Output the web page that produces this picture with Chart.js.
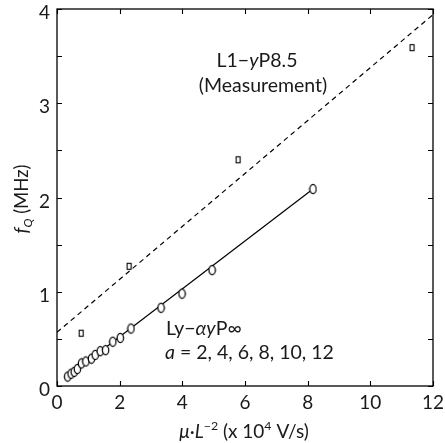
<!DOCTYPE html>
<html><head><meta charset="utf-8">
<script src="https://cdn.jsdelivr.net/npm/chart.js@4.4.1/dist/chart.umd.min.js"></script>
<style>html,body{margin:0;padding:0;background:#fff;}#wrap{width:445px;height:443px;}</style>
</head><body><div id="wrap"><canvas id="c" width="445" height="443"></canvas></div>
<script>
// Simulation (Ly-αyP∞, a = 2..12): circles
const simX = [0.34,0.45,0.55,0.65,0.78,0.92,1.10,1.22,1.38,1.55,1.78,2.02,2.36,3.32,3.99,4.95,8.17];
const simY = [0.10,0.13,0.15,0.18,0.24,0.26,0.29,0.33,0.37,0.38,0.47,0.51,0.61,0.83,0.98,1.23,2.09];
// Linear fit through simulation
const fitX = [0.34, 8.17];
const fitY = [0.10, 2.09];
// Measurement (L1-yP8.5): squares
const measX = [0.77, 2.30, 5.78, 11.33];
const measY = [0.56, 1.27, 2.40, 3.59];
// Measurement trend (dashed)
const trendX = [0, 12];
const trendY = [0.57, 3.94];
const xTicks = [0,2,4,6,8,10,12];
const yTicks = [0,1,2,3,4];

const FONT = 'Lato, "Open Sans", sans-serif';
const INK = '#1a1a1a';

function mk(w,h,draw){const c=document.createElement('canvas');c.width=w;c.height=h;draw(c.getContext('2d'));return c;}
const ellipse = mk(9,12,g=>{g.beginPath();g.ellipse(4.5,6,3.2,4.6,0,0,Math.PI*2);g.fillStyle='#fff';g.fill();g.lineWidth=1.2;g.strokeStyle='#000';g.stroke();});
const rectPt = mk(7,9,g=>{g.fillStyle='#fff';g.fillRect(1.5,1.5,4,6);g.lineWidth=1.1;g.strokeStyle='#000';g.strokeRect(1.5,1.5,4,6);});

const pts=(xs,ys)=>xs.map((x,i)=>({x,y:ys[i]}));

function richText(ctx, segs, x, y, size, align){
  const parts = segs.map(s=>{
    const sz = (s.sup||s.sub)? size*0.65 : size;
    const f = (s.it?'italic ':'') + sz + 'px ' + FONT;
    ctx.font = f;
    return {s, f, w: ctx.measureText(s.t).width};
  });
  const total = parts.reduce((a,p)=>a+p.w,0);
  let cx = align==='center' ? x - total/2 : x;
  ctx.textBaseline='alphabetic'; ctx.textAlign='left';
  for(const p of parts){
    ctx.font = p.f;
    let dy = 0;
    if(p.s.sup) dy = -size*0.4;
    if(p.s.sub) dy = size*0.22;
    ctx.fillText(p.s.t, cx, y+dy);
    cx += p.w;
  }
}

const deco = {
  id:'deco',
  afterDraw(chart){
    const ctx=chart.ctx, a=chart.chartArea, xs=chart.scales.x, ys=chart.scales.y;
    ctx.save();
    ctx.setTransform(1,0,0,1,0,0);
    ctx.strokeStyle='#000'; ctx.lineWidth=1.3; ctx.setLineDash([]);
    ctx.strokeRect(a.left, a.top, a.right-a.left, a.bottom-a.top);
    ctx.lineWidth=1.1;
    ctx.beginPath();
    for(const v of xTicks){
      const px = Math.round(xs.getPixelForValue(v))+0.5;
      ctx.moveTo(px,a.bottom); ctx.lineTo(px,a.bottom-5);
      ctx.moveTo(px,a.top); ctx.lineTo(px,a.top+5);
    }
    for(let v=0; v<=4.001; v+=0.5){
      const py = Math.round(ys.getPixelForValue(v))+0.5;
      ctx.moveTo(a.left,py); ctx.lineTo(a.left+5,py);
      ctx.moveTo(a.right,py); ctx.lineTo(a.right-5,py);
    }
    ctx.stroke();
    ctx.fillStyle=INK;
    // y tick labels
    ctx.font = '19px ' + FONT; ctx.textAlign='right'; ctx.textBaseline='alphabetic';
    for(const v of yTicks){
      ctx.fillText(String(v), a.left-7, ys.getPixelForValue(v)+10);
    }
    richText(ctx,[{t:'L1−'},{t:'y',it:true},{t:'P8.5'}],257,67,19.5,'center');
    richText(ctx,[{t:'(Measurement)'}],263,92,19.5,'center');
    richText(ctx,[{t:'Ly−'},{t:'αy',it:true},{t:'P∞'}],166,335,19.5,'left');
    richText(ctx,[{t:'a',it:true},{t:' = 2, 4, 6, 8, 10, 12'}],165,359,19.5,'left');
    richText(ctx,[{t:'μ',it:true},{t:'·'},{t:'L',it:true},{t:'−2',sup:true},{t:' (x 10'},{t:'4',sup:true},{t:' V/s)'}],244,438,19,'center');
    ctx.save();
    ctx.translate(28,199); ctx.rotate(-Math.PI/2);
    richText(ctx,[{t:'f',it:true},{t:'Q',it:true,sub:true},{t:' (MHz)'}],0,0,18.5,'center');
    ctx.restore();
    ctx.restore();
  }
};

new Chart(document.getElementById('c'),{
  type:'scatter',
  data:{datasets:[
    {data:pts(trendX,trendY),showLine:true,borderColor:'#000',borderWidth:1.2,borderDash:[5,4],pointRadius:0,order:3},
    {data:pts(fitX,fitY),showLine:true,borderColor:'#000',borderWidth:1.2,pointRadius:0,order:2},
    {data:pts(measX,measY),pointStyle:rectPt,pointRadius:4,showLine:false,order:1},
    {data:pts(simX,simY),pointStyle:ellipse,pointRadius:5,showLine:false,order:0}
  ]},
  options:{
    responsive:false,animation:false,
    layout:{padding:{left:0,top:9,right:12,bottom:0}},
    plugins:{legend:{display:false},tooltip:{enabled:false}},
    scales:{
      x:{type:'linear',min:0,max:12,
        afterBuildTicks(s){s.ticks=xTicks.map(v=>({value:v}));},
        afterFit(s){s.height=57;s.paddingLeft=0;s.paddingRight=0;},
        grid:{display:false,drawTicks:false},border:{display:false},
        ticks:{color:INK,font:{family:FONT,size:19},padding:5,maxRotation:0}},
      y:{type:'linear',min:0,max:4,
        afterBuildTicks(s){s.ticks=yTicks.map(v=>({value:v}));},
        afterFit(s){s.width=57;s.paddingTop=0;s.paddingBottom=0;},
        grid:{display:false,drawTicks:false},border:{display:false},
        ticks:{display:false}}
    }
  },
  plugins:[deco]
});
</script></body></html>
